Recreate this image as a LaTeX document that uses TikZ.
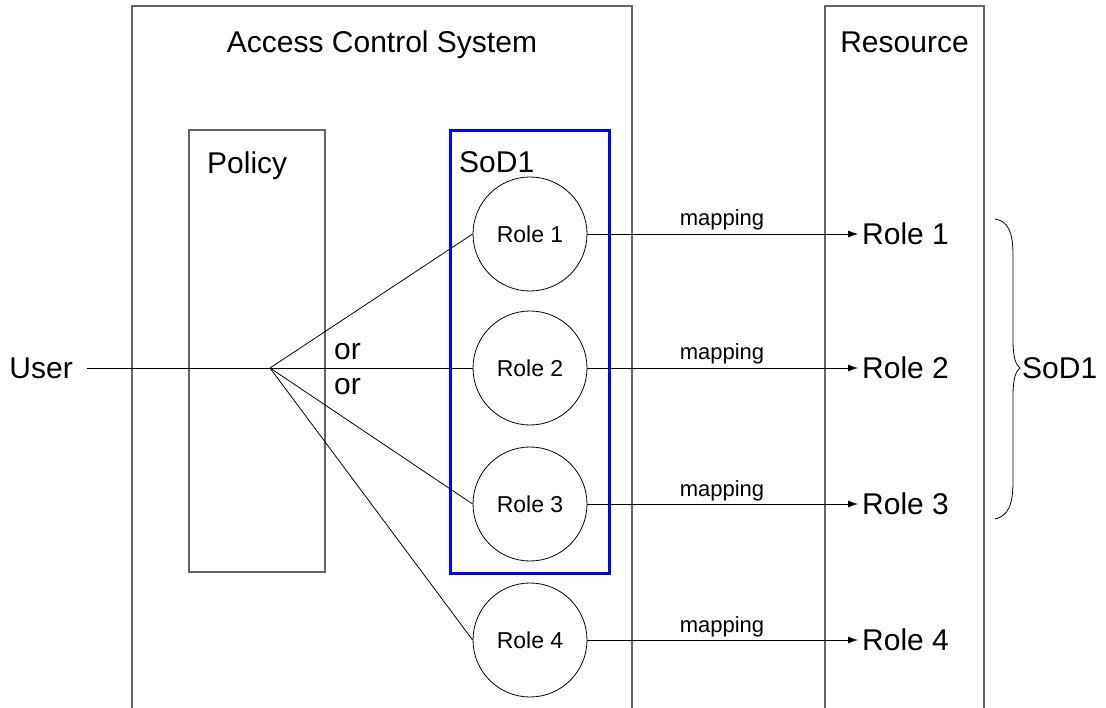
\documentclass[tikz,border=0pt]{standalone}
\usepackage{fontspec}
\setmainfont{Liberation Sans}
\usetikzlibrary{arrows.meta}
\definecolor{boxgray}{RGB}{100,100,100}
\definecolor{sodblue}{RGB}{0,0,255}
\begin{document}
\begin{tikzpicture}[x=1pt,y=-1pt,
  big/.style={font=\fontsize{30}{36}\selectfont, inner sep=0pt},
  small/.style={font=\fontsize{22}{26}\selectfont, inner sep=0pt},
  frame/.style={draw=boxgray, line width=1.3pt},
  role/.style={circle, draw, line width=0.8pt, minimum size=114pt, inner sep=0pt, font=\fontsize{23}{27}\selectfont},
  conn/.style={line width=0.8pt},
  maparrow/.style={line width=0.8pt, -{Latex[length=10pt,width=7pt]}},
  target/.style={big, anchor=west, inner xsep=4pt}]
\useasboundingbox (0,0) rectangle (1106,708);
% Access Control System frame (open at bottom)
\draw[frame] (132,708) -- (132,6) -- (632,6) -- (632,708);
\node[big, anchor=base] (acs) at (382,53) {Access Control System};
% Resource frame
\draw[frame] (825,708) -- (825,6) -- (984,6) -- (984,708);
\node[big, anchor=base] (res) at (904.5,53) {Resource};
% Policy box
\node[frame, draw, minimum width=136pt, minimum height=442pt, inner sep=0pt] (policy) at (257,351) {};
\node[big, anchor=base west] (policylbl) at (207,174) {Policy};
% SoD1 box
\node[draw=sodblue, line width=3pt, minimum width=159pt, minimum height=442pt, inner sep=0pt] (sod) at (529.5,352) {};
\node[big, anchor=base west] (sodlbl) at (459,173) {SoD1};
% Roles
\node[role] (r1) at (530,234) {Role 1};
\node[role] (r2) at (530,368) {Role 2};
\node[role] (r3) at (530,504) {Role 3};
\node[role] (r4) at (530,640) {Role 4};
% User and fan
\node[big, anchor=east, inner xsep=14pt] (user) at (87,368) {User};
\coordinate (fan) at (270,368);
\draw[conn] (user.east) -- (fan);
\draw[conn] (fan) -- (r1.west);
\draw[conn] (fan) -- (r2.west);
\draw[conn] (fan) -- (r3.west);
\draw[conn] (fan) -- (r4.west);
\node[big, anchor=west] (or1) at (334,352) {or};
\node[big, anchor=west] (or2) at (334,387) {or};
% Targets
\node[target] (t1) at (858,234) {Role 1};
\node[target] (t2) at (858,368) {Role 2};
\node[target] (t3) at (858,504) {Role 3};
\node[target] (t4) at (858,640) {Role 4};
\draw[maparrow] (r1.east) -- (t1.west);
\draw[maparrow] (r2.east) -- (t2.west);
\draw[maparrow] (r3.east) -- (t3.west);
\draw[maparrow] (r4.east) -- (t4.west);
\node[small, anchor=base] (m1) at (722,226) {mapping};
\node[small, anchor=base] (m2) at (722,360) {mapping};
\node[small, anchor=base] (m3) at (722,496) {mapping};
\node[small, anchor=base] (m4) at (722,632) {mapping};
% Brace
\draw[conn] (995,219) .. controls (1008,221) and (1013,232) .. (1013,255)
  -- (1013,340) .. controls (1013,358) and (1016,365) .. (1020,368)
  .. controls (1016,371) and (1013,378) .. (1013,396)
  -- (1013,482) .. controls (1013,505) and (1008,516) .. (995,519);
\node[big, anchor=west] (sodr) at (1022,368) {SoD1};
\end{tikzpicture}
\end{document}
